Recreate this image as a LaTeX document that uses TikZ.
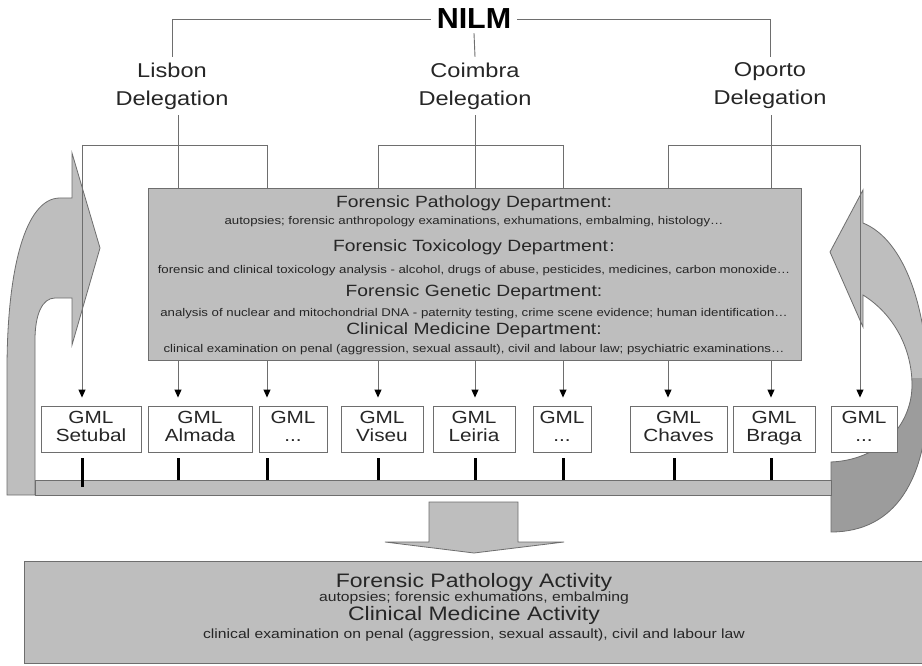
\documentclass[tikz,border=0pt]{standalone}
\usepackage{fontspec}
\setmainfont[FakeStretch=1.18]{Liberation Sans}
\newfontfamily\nilmfont[FakeStretch=1.05]{Liberation Sans}
\usetikzlibrary{arrows.meta}
\definecolor{boxgray}{HTML}{BEBEBE}
\definecolor{edgegray}{HTML}{6E6E6E}
\definecolor{darkfill}{HTML}{9C9C9C}
\definecolor{inkgray}{HTML}{262626}
\newcommand\fsz[2]{\fontsize{#1}{#2}\selectfont}
\newcommand\gmltext[1]{GML\\#1\strut}
\begin{document}
\begin{tikzpicture}[x=1pt,y=-1pt,
  conn/.style={draw=edgegray, line width=0.9pt},
  arr/.style={conn, -{Triangle[width=7pt,length=8pt,color=black]}, shorten >=8pt},
  gml/.style={draw=edgegray, fill=white, line width=0.9pt, align=center, inner sep=0pt,
              font=\fsz{17.6}{18}, text=inkgray},
  gmltick/.style={line width=3pt, draw=black},
  ribbon/.style={fill=boxgray, draw=edgegray, line width=0.8pt},
  deleg/.style={align=center, inner sep=0pt, minimum height=58pt, minimum width=120pt,
                font=\fsz{20}{28}, text=inkgray},
  hdtext/.style={font=\fsz{16.3}{17}, text=inkgray, inner sep=0pt, text height=11.5pt, text depth=3pt},
  smalltext/.style={font=\fsz{11.2}{12}, text=inkgray, inner sep=0pt, text height=8pt, text depth=2pt},
  bhdtext/.style={font=\fsz{19.5}{20}, text=inkgray, inner sep=0pt, text height=14pt, text depth=4pt},
  bsmalltext/.style={font=\fsz{13.3}{14}, text=inkgray, inner sep=0pt, text height=9.5pt, text depth=3pt}
]
\useasboundingbox (0,0) rectangle (922,666);
\fill[white] (0,0) rectangle (922,666);
\clip (0,0) rectangle (922,666);

% left curved arrow
\path[ribbon] (7,495) -- (7,370) .. controls (7,270) and (25,198) .. (60,198) -- (72,198)
  -- (72,153) -- (100,248) -- (72,345) -- (72,298) -- (55,298)
  .. controls (42,298) and (35,315) .. (35,340) -- (35,495) -- cycle;

% right curved arrow
\fill[boxgray] (830,252) -- (863,190) -- (863,223) .. controls (905,240) and (928,310) .. (928,390)
  .. controls (928,480) and (895,532) .. (831,532) -- (831,462)
  .. controls (880,460) and (912,425) .. (912,385) .. controls (912,350) and (895,315) .. (863,295)
  -- (863,327) -- cycle;
\begin{scope}
  \clip (800,378) rectangle (940,545);
  \fill[darkfill] (830,252) -- (863,190) -- (863,223) .. controls (905,240) and (928,310) .. (928,390)
  .. controls (928,480) and (895,532) .. (831,532) -- (831,462)
  .. controls (880,460) and (912,425) .. (912,385) .. controls (912,350) and (895,315) .. (863,295)
  -- (863,327) -- cycle;
\end{scope}
\draw[edgegray, line width=0.8pt] (830,252) -- (863,190) -- (863,223) .. controls (905,240) and (928,310) .. (928,390)
  .. controls (928,480) and (895,532) .. (831,532) -- (831,462)
  .. controls (880,460) and (912,425) .. (912,385) .. controls (912,350) and (895,315) .. (863,295)
  -- (863,327) -- cycle;

% top hierarchy
\node[font=\nilmfont\bfseries\fsz{29}{30}, text=black, inner xsep=6pt, inner ysep=4pt] (nilm) at (474,19) {NILM};
\node[deleg] (lisbon) at (172,86) {Lisbon\\Delegation};
\node[deleg] (coimbra) at (475,86) {Coimbra\\Delegation};
\node[deleg] (oporto) at (770,86) {Oporto\\Delegation};
\draw[conn] (nilm.west) -| (lisbon.north);
\draw[conn] (nilm.east) -| (oporto.north);
\draw[conn] (nilm.south) -- (coimbra.north);

% bracket coordinates
\coordinate (a1) at (82,145);
\coordinate (a2) at (178,145);
\coordinate (a3) at (267,145);
\coordinate (a4) at (378,145);
\coordinate (a5) at (475,145);
\coordinate (a6) at (563,145);
\coordinate (a7) at (668,145);
\coordinate (a8) at (771,145);
\coordinate (a9) at (860,145);
\coordinate (t7) at (674,145);

\draw[conn] (lisbon.south -| a2) -- (a2);
\draw[conn] (coimbra.south -| a5) -- (a5);
\draw[conn] (oporto.south -| a8) -- (a8);
\draw[conn] (a1) -- (a3);
\draw[conn] (a4) -- (a6);
\draw[conn] (a7) -- (a9);

% GML boxes
\node[gml, minimum width=100pt, minimum height=46pt] (g1) at (91,429) {\gmltext{Setubal}};
\node[gml, minimum width=104pt, minimum height=46pt] (g2) at (200,429) {\gmltext{Almada}};
\node[gml, minimum width=68pt, minimum height=46pt] (g3) at (293,429) {\gmltext{...}};
\node[gml, minimum width=82pt, minimum height=46pt] (g4) at (382,429) {\gmltext{Viseu}};
\node[gml, minimum width=82pt, minimum height=46pt] (g5) at (474,429) {\gmltext{Leiria}};
\node[gml, minimum width=58pt, minimum height=46pt] (g6) at (562,429) {\gmltext{...}};
\node[gml, minimum width=97pt, minimum height=46pt] (g7) at (678.5,429) {\gmltext{Chaves}};
\node[gml, minimum width=82pt, minimum height=46pt] (g8) at (774,429) {\gmltext{Braga}};
\node[gml, minimum width=66pt, minimum height=46pt] (g9) at (864,429) {\gmltext{...}};

% arrows to GMLs
\foreach \i in {1,...,9}{
  \draw[arr] (a\i) -- (a\i |- g\i.north);
}

% departments box
\node[fill=boxgray, draw=edgegray, line width=0.9pt, minimum width=653pt, minimum height=172pt, inner sep=0pt] (dept) at (474.5,274) {};
\node[hdtext] (d1) at (474,203) {Forensic Pathology Department:};
\node[smalltext] (s1) at (474,222) {autopsies; forensic anthropology examinations, exhumations, embalming, histology…};
\node[hdtext] (d2) at (474,247) {Forensic Toxicology Department\kern1.5pt:};
\node[smalltext] (s2) at (474,270) {forensic and clinical toxicology analysis - alcohol, drugs of abuse, pesticides, medicines, carbon monoxide…};
\node[hdtext] (d3) at (474,292) {Forensic Genetic Department:};
\node[smalltext] (s3) at (474,313) {analysis of nuclear and mitochondrial DNA - paternity testing, crime scene evidence; human identification…};
\node[hdtext] (d4) at (474,330) {Clinical Medicine Department:};
\node[smalltext] (s4) at (474,349) {clinical examination on penal (aggression, sexual assault), civil and labour law; psychiatric examinations…};

% horizontal bar
\node[ribbon, minimum width=796pt, minimum height=15pt, inner sep=0pt] (bar) at (433,487.5) {};

% ticks
\draw[gmltick] ([yshift=-6pt]g1.south -| a1) -- ([yshift=-7pt]bar.north -| a1);
\foreach \i in {2,...,6,8}{
  \draw[gmltick] ([yshift=-6pt]g\i.south -| a\i) -- (bar.north -| a\i);
}
\draw[gmltick] ([yshift=-6pt]g7.south -| t7) -- (bar.north -| t7);

% down arrow
\path[ribbon] (429,502) -- (518,502) -- (518,542) -- (564,542) -- (474,553) -- (385,542) -- (429,542) -- cycle;

% bottom box
\node[fill=boxgray, draw=edgegray, line width=0.9pt, minimum width=900pt, minimum height=102pt, inner sep=0pt] (activity) at (474,612) {};
\node[bhdtext] (b1) at (474,582) {Forensic Pathology Activity};
\node[bsmalltext] (b2) at (474,598) {autopsies; forensic exhumations, embalming};
\node[bhdtext] (b3) at (474,615) {Clinical Medicine Activity};
\node[bsmalltext] (b4) at (474,635) {clinical examination on penal (aggression, sexual assault), civil and labour law};
\end{tikzpicture}
\end{document}
